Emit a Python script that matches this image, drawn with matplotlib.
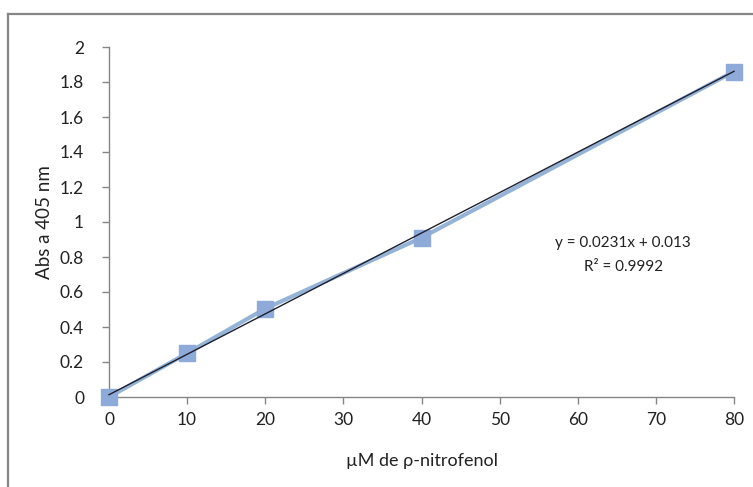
import matplotlib.pyplot as plt
from matplotlib.lines import Line2D
import numpy as np

# concentration (uM) and absorbance at 405 nm
conc = [0, 10, 20, 40, 80]
absorb = [0.0, 0.25, 0.505, 0.91, 1.86]
slope = 0.0231
intercept = 0.013
r2_label = "R² = 0.9992"
eq_label = "y = 0.0231x + 0.013"

plt.rcParams['font.family'] = ['Lato', 'DejaVu Sans']

fig = plt.figure(figsize=(7.53, 4.87), dpi=100)
ax = fig.add_axes([109 / 753, 1 - 397 / 487, 625 / 753, 350 / 487])

# outer chart frame (only left and top visible in the crop)
grey = '#868686'
fig.add_artist(Line2D([8 / 753, 8 / 753], [0, 1 - 14 / 487], color=grey, lw=1.6,
                      transform=fig.transFigure))
fig.add_artist(Line2D([8 / 753, 1], [1 - 14 / 487, 1 - 14 / 487], color=grey, lw=1.6,
                      transform=fig.transFigure))

ax.plot(conc, absorb, color='#95b3d7', lw=3, marker='s', markersize=12,
        markerfacecolor='#8eaad8', markeredgecolor='#8eaad8', clip_on=False, zorder=3)

xs = np.array([0, 80])
ax.plot(xs, slope * xs + intercept, color='#1f1f2e', lw=1, zorder=4, clip_on=False)

ax.set_xlim(0, 80)
ax.set_ylim(0, 2)
ax.set_xticks(range(0, 81, 10))
ax.set_yticks(np.arange(0, 2.01, 0.2))
ax.set_yticklabels(['0', '0.2', '0.4', '0.6', '0.8', '1', '1.2', '1.4', '1.6', '1.8', '2'])

for s in ['top', 'right']:
    ax.spines[s].set_visible(False)
for s in ['left', 'bottom']:
    ax.spines[s].set_color(grey)
    ax.spines[s].set_linewidth(1)
ax.tick_params(axis='both', colors=grey, labelcolor='#222222', labelsize=12.5,
               length=5, width=1)
ax.tick_params(axis='x', pad=6)
ax.tick_params(axis='y', pad=13)

ax.text(65.8, 0.88, eq_label, ha='center', va='center', fontsize=11, color='#222222')
ax.text(65.8, 0.743, r2_label, ha='center', va='center', fontsize=11, color='#222222')

fig.text(422 / 753, 1 - 461 / 487, 'µM de ρ-nitrofenol', ha='center', va='center',
         fontsize=13, color='#222222')
fig.text(45 / 753, 1 - 222 / 487, 'Abs a 405 nm', ha='center', va='center',
         rotation=90, fontsize=13.5, color='#222222')

fig.savefig('out.png', dpi=100)
